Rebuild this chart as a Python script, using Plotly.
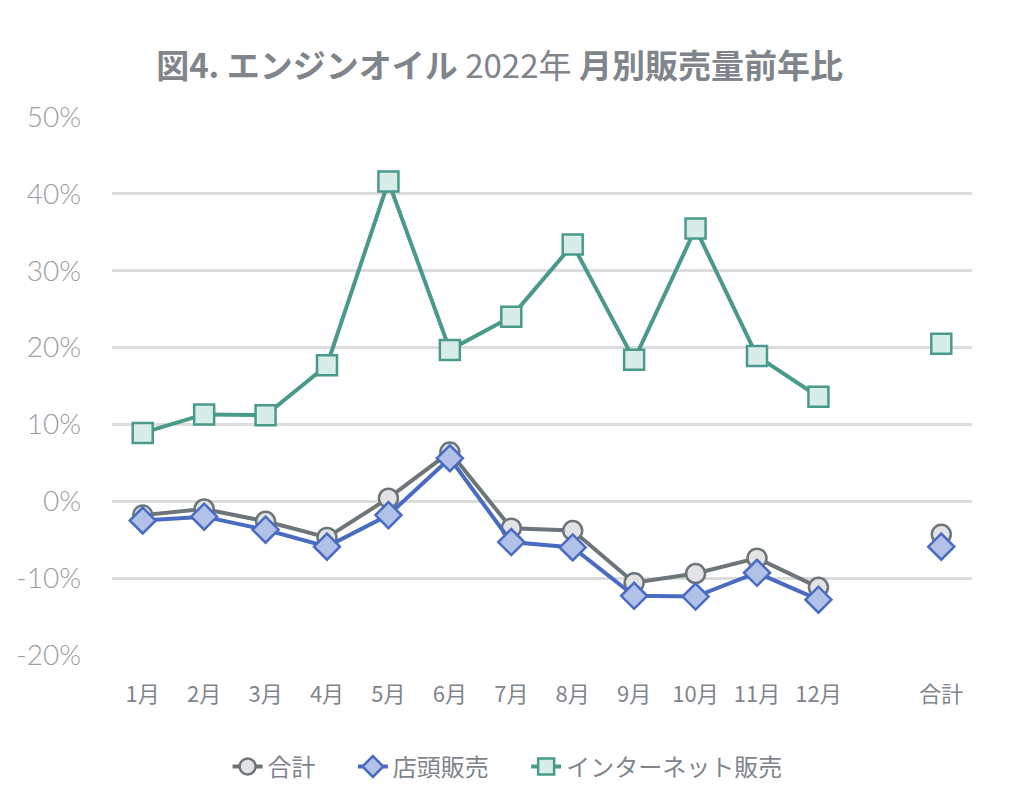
import plotly.graph_objects as go

months = ["1月", "2月", "3月", "4月", "5月", "6月", "7月", "8月", "9月", "10月", "11月", "12月"]
gap_label = " "
total_label = "合計"

total_monthly = [-1.8, -1.0, -2.6, -4.7, 0.4, 6.4, -3.5, -3.8, -10.6, -9.4, -7.4, -11.2]
total_year = -4.3
store_monthly = [-2.5, -2.0, -3.7, -5.9, -1.8, 5.6, -5.3, -6.0, -12.3, -12.4, -9.3, -12.8]
store_year = -5.9
net_monthly = [8.9, 11.3, 11.2, 17.7, 41.6, 19.7, 24.0, 33.4, 18.4, 35.5, 18.9, 13.6]
net_year = 20.5

y_tick_values = [-20, -10, 0, 10, 20, 30, 40, 50]
y_tick_labels = ["-20%", "-10%", "0%", "10%", "20%", "30%", "40%", "50%"]

cats = months + [gap_label, total_label]

def series(monthly, year):
    return [v / 100 for v in monthly] + [None, year / 100]

pad = "\u00a0" * 6
fig = go.Figure()
specs = [
    ("合計" + pad, total_monthly, total_year, "#6d7578", "#e1e3e5", "circle", 19),
    ("店頭販売" + pad, store_monthly, store_year, "#4a6bc2", "#b2c1e7", "diamond", 20),
    ("インターネット販売", net_monthly, net_year, "#4a9a8b", "#d9ede8", "square", 20),
]
for name, m, y, lc, fc, sym, sz in specs:
    fig.add_trace(go.Scatter(
        x=cats, y=series(m, y), name=name, mode="lines+markers",
        connectgaps=False,
        line=dict(color=lc, width=4),
        marker=dict(symbol=sym, size=sz, color=fc, line=dict(color=lc, width=2.5)),
    ))

fig.update_layout(
    width=1024, height=807,
    paper_bgcolor="white", plot_bgcolor="white",
    margin=dict(l=104, r=60, t=109, b=160),
    title=dict(
        text="<b>図4. エンジンオイル</b> 2022年 <b>月別販売量前年比</b>",
        x=0.48, xanchor="center", y=0.927, yanchor="middle",
        font=dict(family="Noto Sans CJK JP", size=33, color="#7f858b"),
    ),
    xaxis=dict(
        type="category", categoryorder="array", categoryarray=cats,
        range=[-0.5, len(cats) - 0.5],
        showgrid=False, zeroline=False, showline=False, ticks="",
        tickfont=dict(family="Noto Sans CJK JP", size=22, color="#7f858b"),
        ticklabelstandoff=24, automargin=False,
    ),
    yaxis=dict(
        range=[-0.2, 0.5],
        tickvals=[v / 100 for v in y_tick_values], ticktext=y_tick_labels,
        showgrid=True, gridcolor="#dcdcdc", gridwidth=2.5,
        zeroline=False, showline=False, ticks="",
        tickfont=dict(family="Lato", size=28, color="#9a9ea3", weight=300),
        ticklabelstandoff=30, automargin=False,
    ),
    legend=dict(
        orientation="h", x=0.46, xanchor="center", y=-0.208, yanchor="middle",
        font=dict(family="Noto Sans CJK JP", size=24, color="#7f858b"),
        itemsizing="trace", traceorder="normal",
    ),
)

fig.write_html("out.html")
